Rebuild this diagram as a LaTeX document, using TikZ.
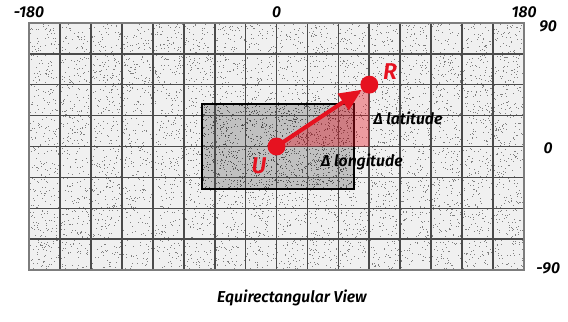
\documentclass[tikz,border=0pt]{standalone}
\usepackage{fontspec}
\newfontfamily\labfont{Fira Sans SemiBold Italic}
\usetikzlibrary{arrows.meta}
\begin{document}
\begin{tikzpicture}[every node/.style={font=\labfont\fontsize{14.5}{17}\selectfont}]
\definecolor{markred}{RGB}{230,18,32}
\definecolor{gridline}{RGB}{75,75,75}
\definecolor{gridedge}{RGB}{125,125,125}
\useasboundingbox (-8.937,-5.672) rectangle (9.421,4.735);
% Map background (stippled)
\fill[black!6] (-8,-4) rectangle (8,4);
\pgfmathsetseed{4711}
\foreach \k in {1,...,6500} {
  \pgfmathsetmacro{\px}{rnd*16-8}
  \pgfmathsetmacro{\py}{rnd*8-4}
  \fill[black!50] (\px,\py) rectangle ++(0.024,0.024);
}
% View window
\fill[black, opacity=0.2] (-2.42,-1.38) rectangle (2.5,1.36);
\foreach \k in {1,...,800} {
  \pgfmathsetmacro{\px}{rnd*4.92-2.42}
  \pgfmathsetmacro{\py}{rnd*2.74-1.38}
  \fill[black!70] (\px,\py) rectangle ++(0.026,0.026);
}
% Grid
\foreach \x in {-7,...,7}
  \draw[gridline, line width=1.6pt] (\x,-4) -- (\x,4);
\foreach \y in {-3,...,3}
  \draw[gridline, line width=1.6pt] (-8,\y) -- (8,\y);
\draw[gridedge, line width=1.8pt] (-8,-4) rectangle (8,4);
\draw[black, line width=1.8pt] (-2.42,-1.38) rectangle (2.5,1.36);
% Axis labels
\foreach \x/\lab in {-8/-180, 0/0, 8/180}
  \node (top\lab) at (\x,4.33) {\lab};
\foreach \y/\lab in {3.9/90, -0.05/0, -3.93/-90}
  \node (side\lab) at (8.78,\y) {\lab};
% Points and offsets
\node[circle, fill=markred, minimum size=0.58cm, inner sep=0pt] (U) at (0,0) {};
\node[circle, fill=markred, minimum size=0.58cm, inner sep=0pt] (R) at (3,2) {};
\coordinate (corner) at (3,0);
\fill[markred, opacity=0.38] (U.center) -- (corner) -- (R.center) -- cycle;
\draw[markred, line width=3.8pt, -{Triangle[length=0.72cm, width=0.62cm]}] (U.center) -- (R);
\node[markred, font=\labfont\fontsize{21}{24}\selectfont] (Ulab) at (-0.57,-0.63) {U};
\node[markred, font=\labfont\fontsize{21}{24}\selectfont] (Rlab) at (3.67,2.41) {R};
\node (dlat) at (4.25,0.92) {Δ latitude};
\node (dlon) at (2.76,-0.5) {Δ longitude};
\node (title) at (0.5,-4.9) {Equirectangular View};
\end{tikzpicture}
\end{document}
